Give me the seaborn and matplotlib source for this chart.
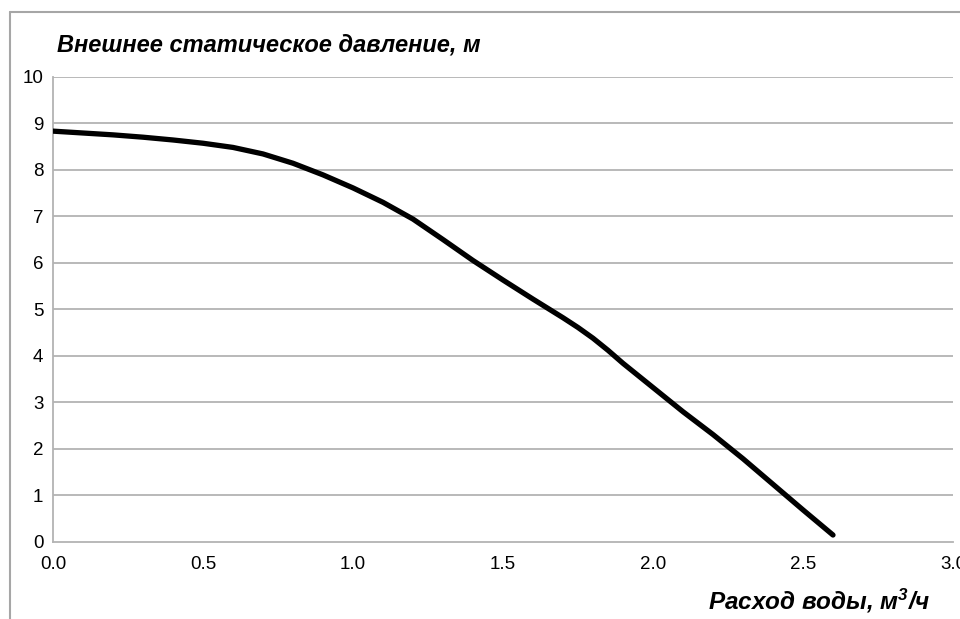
import numpy as np
import pandas as pd
import matplotlib
matplotlib.use("Agg")
import matplotlib.pyplot as plt
import seaborn as sns
from matplotlib.lines import Line2D

# flow rate, m3/h
flow = [0.0, 0.1, 0.2, 0.3, 0.4, 0.5, 0.6, 0.7, 0.8, 0.9, 1.0, 1.1, 1.2, 1.3,
        1.4, 1.5, 1.6, 1.7, 1.75, 1.8, 1.85, 1.9, 2.0, 2.1, 2.2, 2.3, 2.4, 2.5, 2.6]
# external static pressure, m
head = [8.83, 8.79, 8.75, 8.70, 8.64, 8.57, 8.48, 8.34, 8.14, 7.89, 7.61, 7.30,
        6.94, 6.50, 6.05, 5.63, 5.22, 4.82, 4.61, 4.38, 4.12, 3.84, 3.32, 2.80,
        2.31, 1.79, 1.24, 0.69, 0.15]

y_ticks = [0, 1, 2, 3, 4, 5, 6, 7, 8, 9, 10]
x_ticks = [0.0, 0.5, 1.0, 1.5, 2.0, 2.5, 3.0]

df = pd.DataFrame({"flow": flow, "head": head})

sns.set_style("white")
plt.rcParams["font.family"] = ["Liberation Sans", "DejaVu Sans"]
plt.rcParams["text.color"] = "black"
plt.rcParams["mathtext.fontset"] = "custom"
plt.rcParams["mathtext.rm"] = "Liberation Sans:bold:italic"
plt.rcParams["mathtext.it"] = "Liberation Sans:bold:italic"

fig = plt.figure(figsize=(9.6, 6.19), dpi=100)
ax = fig.add_axes([53 / 960, 1 - 542 / 619, 900 / 960, (542 - 76.7) / 619])

grid_c = "#b3b3b3"
for v in y_ticks[1:]:
    ax.axhline(v, color=grid_c, lw=1.3, zorder=1)

sns.lineplot(data=df, x="flow", y="head", color="black", lw=3.8,
             solid_capstyle="round", solid_joinstyle="round", ax=ax, zorder=3)

ax.set_xlim(0, 3.0)
ax.set_ylim(0, 10)
ax.set_xticks(x_ticks)
ax.set_xticklabels([f"{v:.1f}" for v in x_ticks])
ax.set_yticks(y_ticks)
ax.set_xlabel("")
ax.set_ylabel("")

for s in ["top", "right"]:
    ax.spines[s].set_visible(False)
for s in ["left", "bottom"]:
    ax.spines[s].set_color(grid_c)
    ax.spines[s].set_linewidth(1.3)

ax.tick_params(axis="both", direction="out", length=5, width=1.3, color=grid_c,
               labelsize=13.5, labelcolor="black")
ax.tick_params(axis="y", pad=2)
ax.tick_params(axis="x", pad=5)

# outer chart border (partly cropped)
fig.add_artist(Line2D([10 / 960, 1], [1 - 12 / 619, 1 - 12 / 619],
                      color="#a6a6a6", lw=1.5, transform=fig.transFigure))
fig.add_artist(Line2D([10 / 960, 10 / 960], [0, 1 - 12 / 619],
                      color="#a6a6a6", lw=1.5, transform=fig.transFigure))

fig.text(57 / 960, 1 - 45 / 619, "Внешнее статическое давление, м",
         fontsize=17, fontweight="bold", fontstyle="italic", va="center", ha="left")
fig.text(930 / 960, 1 - 601 / 619, r"Расход воды, м$^{3}$/ч",
         fontsize=17.5, fontweight="bold", fontstyle="italic", va="center", ha="right")

fig.savefig("out.png", dpi=100)
